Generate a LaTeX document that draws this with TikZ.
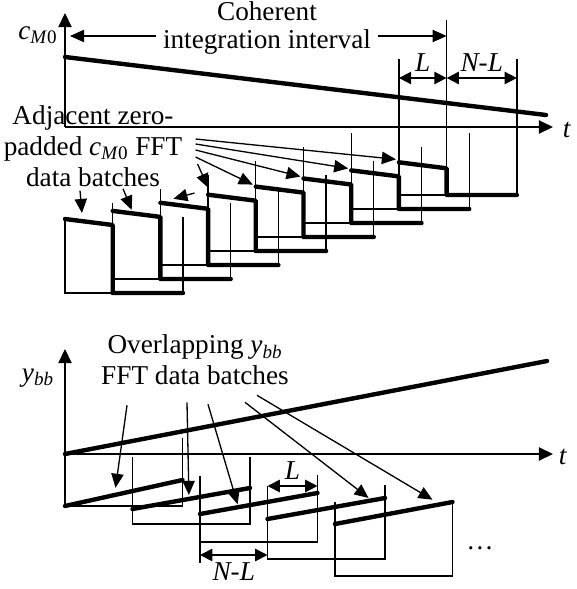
\documentclass[tikz,border=0pt]{standalone}
\usepackage{fontspec}
\setmainfont{Liberation Serif}
\usetikzlibrary{arrows.meta}

\begin{document}
\begin{tikzpicture}[
        x=0.02cm, y=-0.02cm,
        thin line/.style={line width=0.75pt},
        thick line/.style={line width=2.5pt, line cap=round, line join=round},
        axis/.style={line width=0.85pt, -{Triangle[length=8pt, width=7.5pt]}},
        pointer/.style={line width=0.75pt, -{Triangle[length=8pt, width=7pt]}},
        span/.style={line width=1pt, {Triangle[length=7pt, width=7pt]}-{Triangle[length=7pt, width=7pt]}},
        txt/.style={font=\fontsize{15.5}{17.5}\selectfont, inner sep=0pt, align=center}
    ]
    \useasboundingbox (0,0) rectangle (576,589);

    % upper plot
    \coordinate (o1) at (65,127);
    \draw[axis] (o1) -- (65,13);
    \draw[axis] (o1) -- (553,127);
    \node[txt] (t1) at (567,130) {\textit{t}};
    \node[txt] (cm) at (38,35) {\textit{c}\textsubscript{\textit{M}0}};
    \draw[thick line] (65,57) -- (546,115);
    \foreach \k in {0,...,7} {
        \pgfmathsetmacro{\xa}{65+47.7*\k}
        \pgfmathsetmacro{\xb}{\xa+47.7}
        \pgfmathsetmacro{\xc}{\xa+118}
        \pgfmathsetmacro{\ya}{219-8.1*\k}
        \pgfmathsetmacro{\yb}{293-14*\k}
        \draw[thin line] (\xa,\yb-76) -- (\xa,\yb) -- (\xb,\yb);
        \draw[thin line] (\xc,\yb) -- (\xc,\yb-76) coordinate (r\k);
        \draw[thick line] (\xa,\ya) coordinate (b\k) -- (\xb,\ya+6) coordinate (e\k)
            -- (\xb,\yb) -- (\xc,\yb);
    }
    \node[txt, font=\fontsize{15.5}{16}\selectfont, inner xsep=4pt] (coh) at (267,28)
        {Coherent\\integration interval};
    \coordinate (lvlc) at (70,36);
    \draw[pointer] (coh.west |- lvlc) -- (lvlc);
    \draw[pointer] (coh.east |- lvlc) -- (e7 |- lvlc);
    \draw[thin line] (e7) -- +(0,-148);
    \draw[thin line] (b7) -- +(0,-103);
    \draw[thin line] (r7) -- +(0,-60);
    \coordinate (lvl) at (0,78);
    \draw[span] (b7 |- lvl) -- (e7 |- lvl) node[txt, midway, above=3pt] {\textit{L}};
    \draw[span] (e7 |- lvl) -- (r7 |- lvl) node[txt, midway, above=3pt] {\textit{N-L}};
    \node[txt] (adj) at (93,146)
        {Adjacent zero-\\padded \textit{c}\textsubscript{\textit{M}0} FFT\\data batches};
    \draw[pointer] ([shift={(-13,4)}]adj.south) -- ([shift={(17,-6)}]b0);
    \draw[pointer] ([shift={(30,2)}]adj.south) -- ([shift={(19,-1)}]b1);
    \draw[pointer] ([shift={(12,47)}]adj.east) -- ([shift={(13,-4)}]b2);
    \draw[pointer] ([shift={(15,18)}]adj.east) -- ([shift={(0,-7)}]b3);
    \draw[pointer] ([shift={(13,11)}]adj.east) -- ([shift={(-3,-2)}]b4);
    \draw[pointer] ([shift={(13,4)}]adj.east) -- ([shift={(-3,-2)}]b5);
    \draw[pointer] ([shift={(13,-2)}]adj.east) -- ([shift={(-3,-2)}]b6);
    \draw[pointer] ([shift={(13,-7)}]adj.east) -- ([shift={(-3,-3)}]b7);

    % lower plot
    \coordinate (o2) at (65,454);
    \draw[axis] (o2) -- (65,349);
    \draw[axis] (o2) -- (553,454);
    \node[txt] (t2) at (563,457) {\textit{t}};
    \node[txt] (yb) at (38,378) {\textit{y}\textsubscript{\textit{bb}}};
    \draw[thick line] (o2) -- (547,361);
    \foreach \x/\ys/\ye/\yb/\yl/\yr/\p [count=\k] in {
            65/506/480/506/454/438/0.43,
            132.5/509/488/524/457/457/0.48,
            200/514/493/542/476/475/0.32,
            267.5/519/498/559/486/485/0.86,
            335/524/502/576/502/502/0.83} {
        \draw[thin line] (\x,\yl) coordinate (lt\k) -- (\x,\yb) coordinate (lb\k)
            -- (\x+117.5,\yb) -- (\x+117.5,\yr) coordinate (rt\k);
        \draw[thick line] (\x,\ys) -- coordinate[pos=\p] (c\k) (\x+117.5,\ye);
    }
    \draw[span] (lt4) -- (rt3 |- lt4) node[txt, midway, above=3pt] {\textit{L}};
    \draw[thin line] (lb3) -- +(0,21);
    \coordinate (lvlb) at (0,555);
    \draw[span] (lb3 |- lvlb) -- (lt4 |- lvlb) node[txt, midway, below=4pt] {\textit{N-L}};
    \node[txt] (ov) at (195,360) {Overlapping \textit{y}\textsubscript{\textit{bb}}\\FFT data batches};
    \draw[pointer] ([shift={(-68,20)}]ov.south) -- ([shift={(0,-7)}]c1);
    \draw[pointer] ([shift={(-8,17)}]ov.south) -- ([shift={(0,-4)}]c2);
    \draw[pointer] ([shift={(13,19)}]ov.south) -- ([shift={(0,-3)}]c3);
    \draw[pointer] ([shift={(50,17)}]ov.south) -- ([shift={(0,-3)}]c4);
    \draw[pointer] ([shift={(62,10)}]ov.south) -- ([shift={(0,-6)}]c5);
    \node[txt] (dots) at (480,548) {\dots};
\end{tikzpicture}
\end{document}
